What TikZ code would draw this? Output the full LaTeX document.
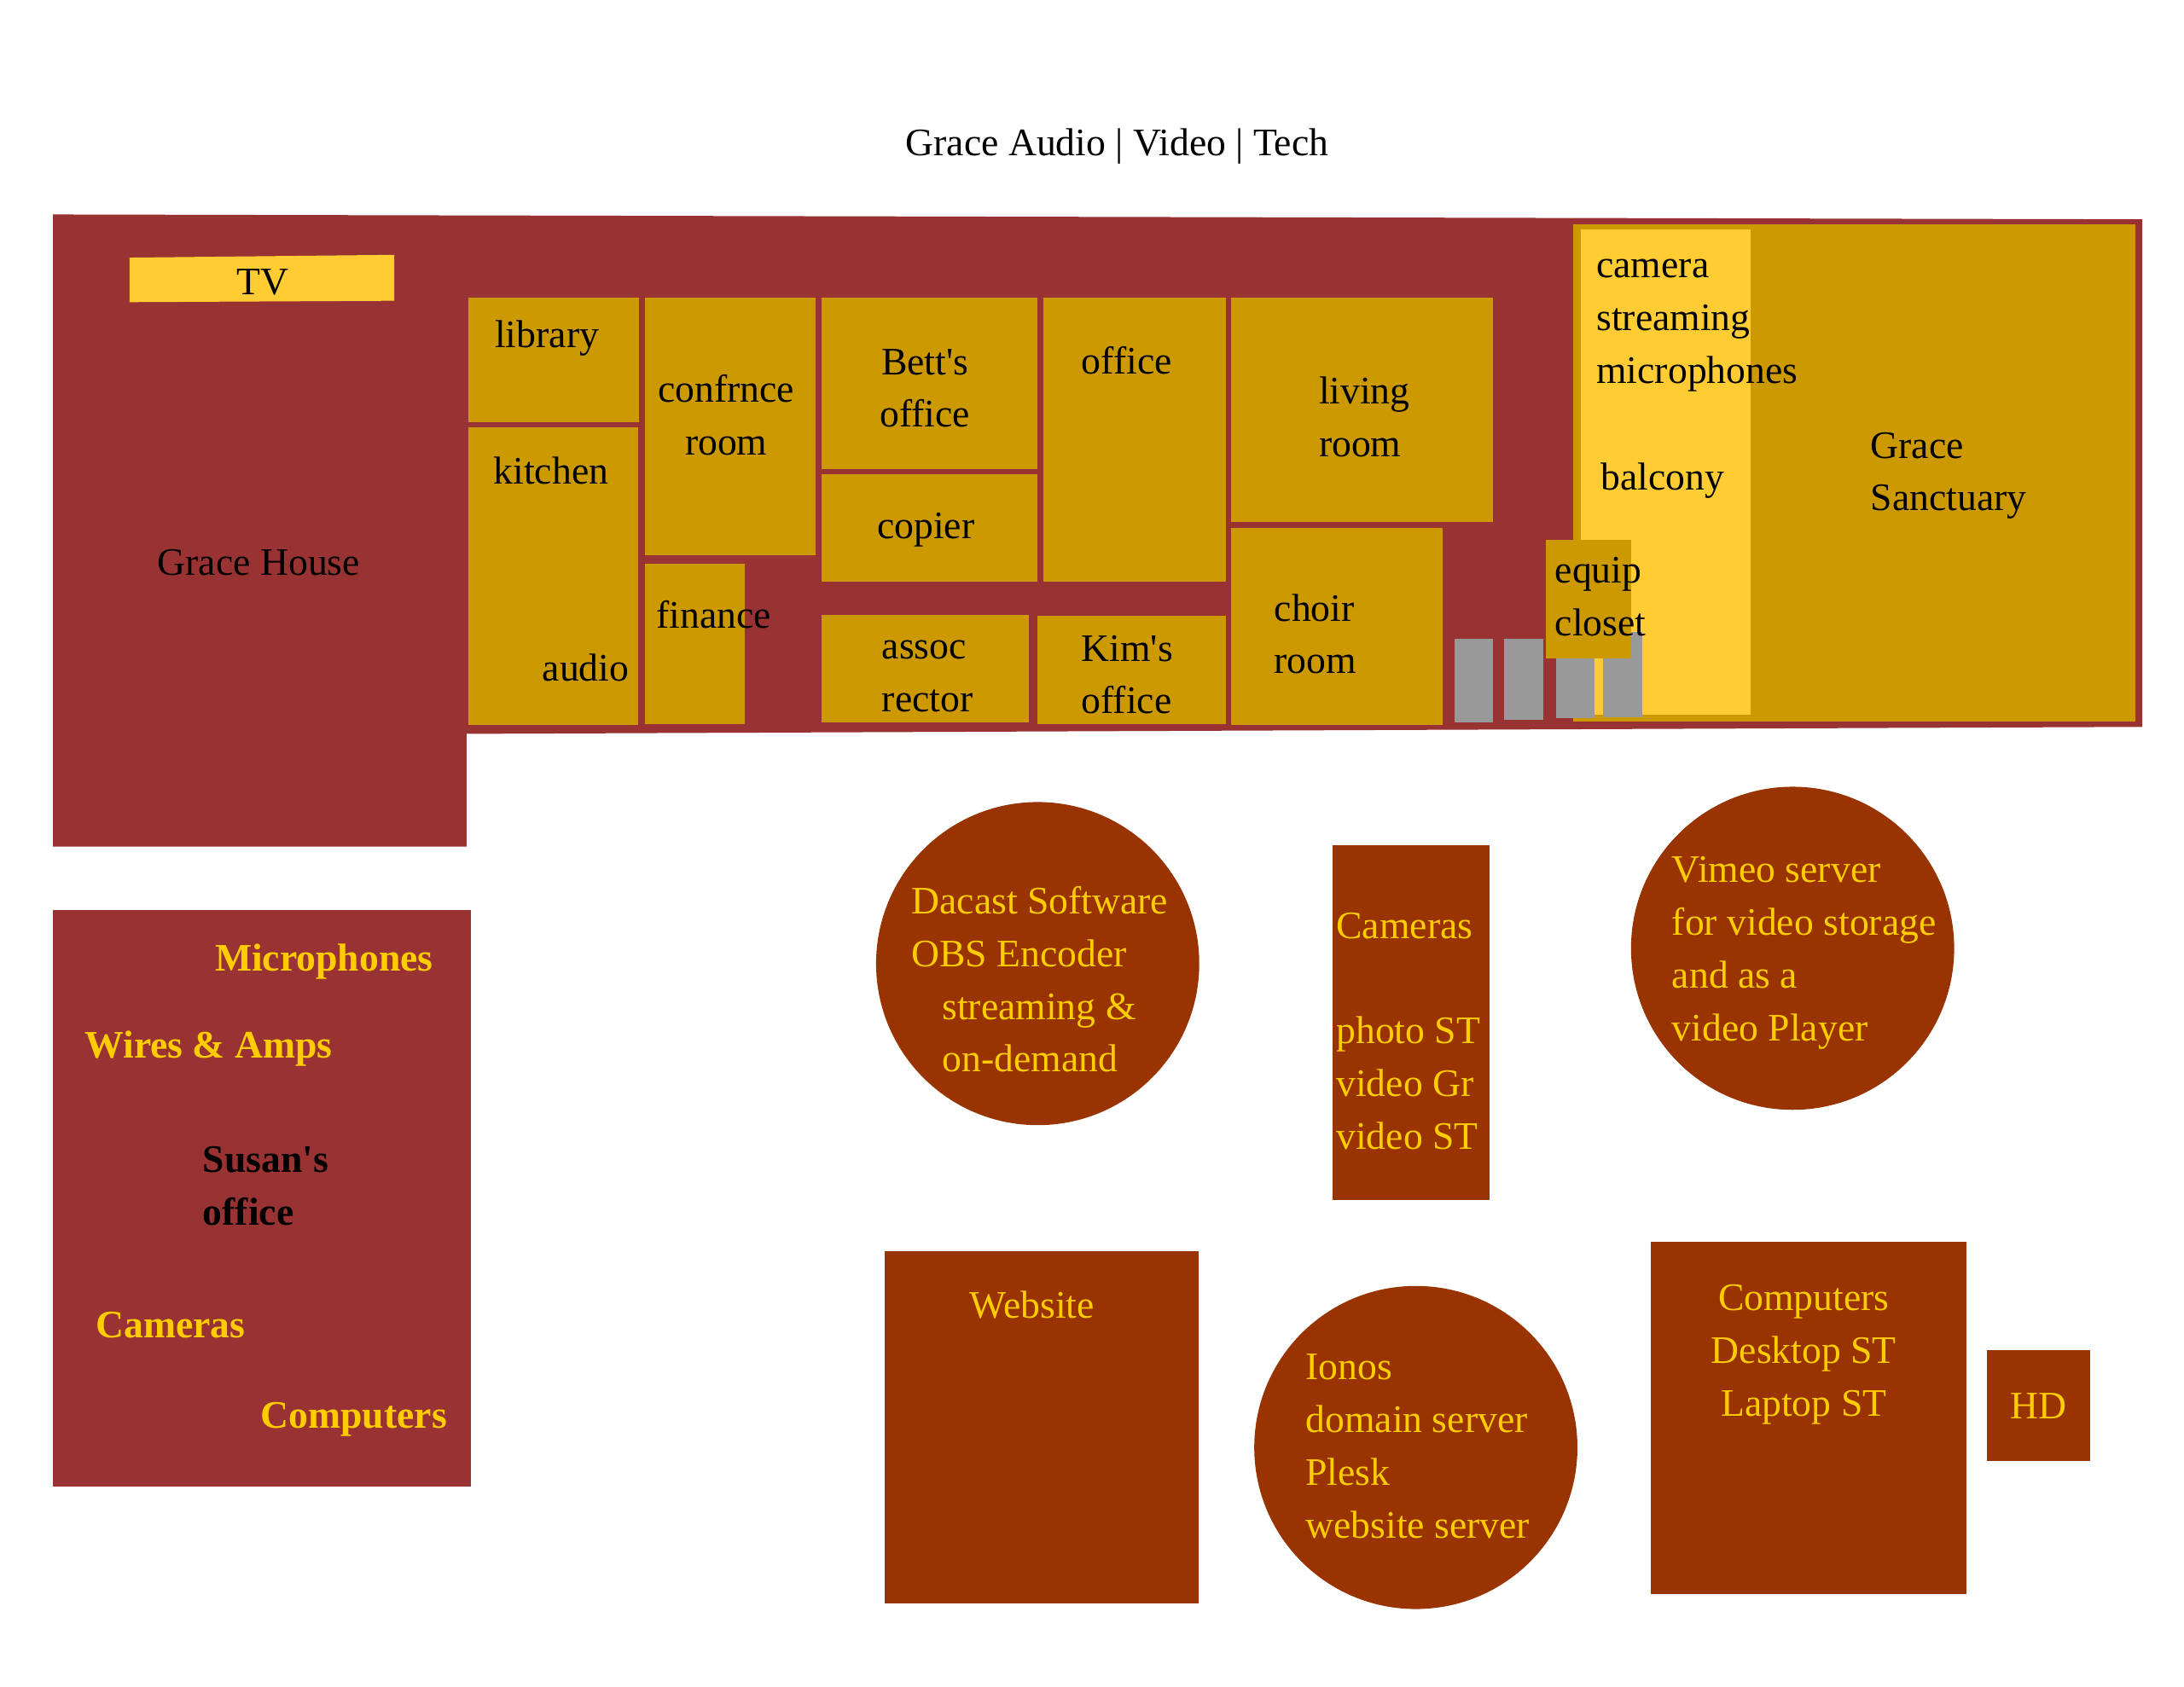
\documentclass[tikz,border=0pt]{standalone}
\usepackage{fontspec}
\setmainfont{Liberation Serif}
\definecolor{wall}{HTML}{993333}
\definecolor{roomgold}{HTML}{CC9900}
\definecolor{balc}{HTML}{FFCC33}
\definecolor{gear}{HTML}{993300}
\definecolor{seat}{HTML}{999999}
\definecolor{ytext}{HTML}{FFCC00}

\begin{document}
\begin{tikzpicture}[x=0.01633cm, y=-0.01633cm,
  every node/.style={inner sep=0pt, yshift=-0.3mm, font=\fontsize{13}{17.6}\selectfont},
  room/.style={fill=roomgold},
  lbl/.style={anchor=base west, align=left},
  clbl/.style={anchor=base, align=center},
  ylbl/.style={anchor=base west, align=left, text=ytext},
  boldlbl/.style={font=\fontsize{13}{17.6}\selectfont\bfseries}]
\useasboundingbox (0,0) rectangle (1568,1211.5);

\fill[wall] (38,154) -- (1538,157.5) -- (1538,522) -- (335,527) -- (335,608) -- (38,608) -- cycle;
\fill[balc] (93,185) -- (283,183) -- (283,216) -- (93,217) -- cycle;
\fill[room] (336,213.6) rectangle (459,303);
\fill[room] (336,307) rectangle (458,520.6);
\fill[room] (463,213.6) rectangle (585.6,398.8);
\fill[room] (463,405) rectangle (535,520);
\fill[room] (590,213.6) rectangle (744.6,336.6);
\fill[room] (590,340.6) rectangle (744.6,417.7);
\fill[room] (590,441.6) rectangle (738.8,518.8);
\fill[room] (749,213.6) rectangle (880,417.7);
\fill[room] (744.6,442) rectangle (880,519.8);
\fill[room] (884,213.6) rectangle (1072,374.6);
\fill[room] (884,379) rectangle (1036,520.6);
\fill[room] (1129.6,161) rectangle (1533,518);
\fill[balc] (1135,165) rectangle (1257,513);
\foreach \xa/\xb/\yt/\yb in {1044/1072/459/519, 1080/1108/459/517, 1117/1145/462/516, 1151/1179/454/515}
  \fill[seat] (\xa,\yt) rectangle (\xb,\yb);
\fill[room] (1110,388) rectangle (1171,473);

\fill[wall] (38,653.6) rectangle (338,1067.6);
\fill[gear] (745,692) circle [radius=1.894cm];
\fill[gear] (957,607) rectangle (1069.5,862);
\fill[gear] (1287,681) circle [radius=1.894cm];
\fill[gear] (635,898.8) rectangle (860.5,1151.6);
\fill[gear] (1016.5,1039.5) circle [radius=1.894cm];
\fill[gear] (1185,892) rectangle (1411.5,1145);
\fill[gear] (1426.5,969.6) rectangle (1500.6,1049);

\node[clbl] (title) at (802,110) {Grace Audio | Video | Tech};
\node[clbl] (tv) at (188.4,210) {TV};
\node[lbl] (gracehouse) at (112.7,411) {Grace House};
\node[lbl] (library) at (355,248) {library};
\node[lbl] (kitchen) at (354,346) {kitchen};
\node[lbl] (audio) at (389,487.5) {audio};
\node[clbl] (confroom) at (521.4,324.8) {confrnce\\room};
\node[lbl] (finance) at (471,449) {finance};
\node[clbl] (betts) at (664,305) {Bett\textquotesingle s\\office};
\node[clbl] (copier) at (664.7,385) {copier};
\node[lbl] (assoc) at (632.8,509.4) {assoc\\rector};
\node[clbl] (office) at (809,266.6) {office};
\node[lbl] (kims) at (776,510.8) {Kim\textquotesingle s\\office};
\node[lbl] (living) at (946.5,326) {living\\room};
\node[lbl] (choir) at (914.5,482) {choir\\room};
\node[lbl] (camera) at (1145.8,273.6) {camera\\streaming\\microphones};
\node[lbl] (balcony) at (1148.8,350) {balcony};
\node[lbl] (sanctuary) at (1342.6,365) {Grace\\Sanctuary};
\node[lbl] (equip) at (1116,454.7) {equip\\closet};

\node[ylbl, boldlbl] (mics) at (154,695.5) {Microphones};
\node[ylbl, boldlbl] (wires) at (60.5,758) {Wires \& Amps};
\node[lbl, boldlbl] (susan) at (145.3,878) {Susan\textquotesingle s\\office};
\node[ylbl, boldlbl] (cams) at (68.4,959) {Cameras};
\node[ylbl, boldlbl] (comps) at (186.8,1024) {Computers};

\node[ylbl] (dacast) at (654,768) {Dacast Software\\OBS Encoder\\\hspace{3.6mm}streaming \&\\\hspace{3.6mm}on-demand};
\node[ylbl] (cameras) at (959,672.5) {Cameras};
\node[ylbl] (camlist) at (959,823.6) {photo ST\\video Gr\\video ST};
\node[ylbl] (vimeo) at (1200,745.6) {Vimeo server\\for video storage\\and as a\\video Player};
\node[anchor=base, text=ytext] (website) at (741,945) {Website};
\node[ylbl] (ionos) at (937,1102.5) {Ionos\\domain server\\Plesk\\website server};
\node[anchor=base, align=center, text=ytext] (computers) at (1295,1015) {Computers\\Desktop ST\\Laptop ST};
\node[anchor=base, text=ytext] (hd) at (1463.5,1016.8) {HD};
\end{tikzpicture}
\end{document}
